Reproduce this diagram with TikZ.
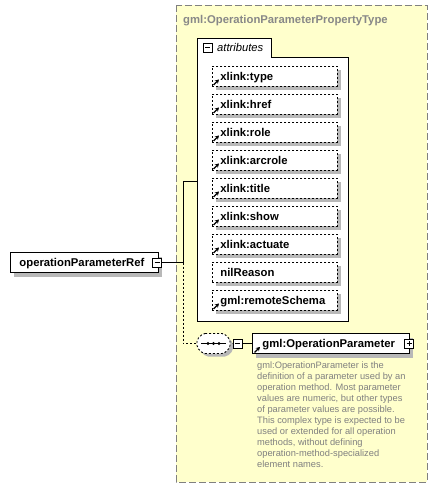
\documentclass[tikz,border=0pt]{standalone}
\usepackage{fontspec}
\setmainfont{Liberation Sans}
\usepackage{tikz}
\usetikzlibrary{shapes}
\usetikzlibrary{shadows}
\usetikzlibrary{arrows.meta}
\pgfdeclarelayer{bglayer}
\pgfdeclarelayer{edgelayer}
\pgfdeclarelayer{nodelayer}
\pgfsetlayers{bglayer,edgelayer,nodelayer,main}
\definecolor{typefill}{RGB}{255,255,204}
\definecolor{typeline}{RGB}{128,128,128}
\definecolor{typetext}{RGB}{136,136,136}
\definecolor{doctext}{RGB}{128,128,128}
\definecolor{shadowgrey}{RGB}{184,184,184}
\tikzstyle{none}=[inner sep=0pt]
\tikzstyle{boldtext}=[font=\fontsize{11.3}{13}\selectfont\bfseries]
\tikzstyle{greyshadow}=[drop shadow={shadow xshift=4pt,shadow yshift=-4pt,fill=shadowgrey,opacity=1}]
\tikzstyle{element}=[draw=black, line width=0.9pt, fill=white, greyshadow, anchor=west, minimum height=20pt, inner ysep=0pt, text height=10pt, text depth=2pt, align=left, boldtext]
\tikzstyle{attribute}=[element, dash pattern=on 2pt off 2pt, text width=109pt, inner xsep=8pt]
\tikzstyle{collapser}=[draw=black, line width=0.8pt, fill=white, minimum size=9pt, inner sep=0pt, path picture={\draw[line width=0.8pt] ([xshift=2pt]path picture bounding box.west) -- ([xshift=-2pt]path picture bounding box.east);}]
\tikzstyle{expander}=[draw=black, line width=0.8pt, fill=white, minimum size=9pt, inner sep=0pt, path picture={\draw[line width=0.8pt] ([xshift=2pt]path picture bounding box.west) -- ([xshift=-2pt]path picture bounding box.east) ([yshift=-2pt]path picture bounding box.north) -- ([yshift=2pt]path picture bounding box.south);}]
\tikzstyle{ref}=[-{Stealth[length=4pt,width=4.5pt]}, line width=1.3pt]
\tikzstyle{connector}=[line width=0.9pt]
\tikzstyle{optional}=[connector, dash pattern=on 2pt off 2pt]

\begin{document}
\begin{tikzpicture}[x=1pt,y=1pt]
	\useasboundingbox (0,0) rectangle (438,-488);
	\begin{pgfonlayer}{bglayer}
		\draw [typeline, fill=typefill, line width=0.9pt, dash pattern=on 7pt off 3pt] (176,-5) rectangle (427,-482);
	\end{pgfonlayer}
	\begin{pgfonlayer}{nodelayer}
		\node [style=none, boldtext, text=typetext, anchor=base west] (0) at (183,-23) {gml:OperationParameterPropertyType};
		\draw [line width=0.9pt, fill=white] (197,-38) -- (271,-38) -- (271,-57) -- (348,-57) -- (348,-321) -- (197,-321) -- cycle;
		\node [style=collapser] (1) at (207.5,-47.5) {};
		\node [style=none, anchor=base west, font=\fontsize{11.2}{13}\selectfont\itshape] (2) at (217,-51.5) {attributes};
		\node [style=attribute] (3) at (212,-76) {xlink:type};
		\node [style=attribute] (4) at (212,-104) {xlink:href};
		\node [style=attribute] (5) at (212,-132) {xlink:role};
		\node [style=attribute] (6) at (212,-160) {xlink:arcrole};
		\node [style=attribute] (7) at (212,-188) {xlink:title};
		\node [style=attribute] (8) at (212,-216) {xlink:show};
		\node [style=attribute] (9) at (212,-244) {xlink:actuate};
		\node [style=attribute] (10) at (212,-272) {nilReason};
		\node [style=attribute] (11) at (212,-300) {gml:remoteSchema};
		\node [style=element, text width=130pt, inner xsep=9pt] (12) at (10,-262.5) {operationParameterRef};
		\node [style=collapser] (13) at (157,-262.5) {};
		\fill [shadowgrey, rounded corners=2pt] (206,-336.5) -- (227,-336.5) -- (233,-342.5) -- (233,-350.5) -- (227,-356.5) -- (206,-356.5) -- (200,-350.5) -- (200,-342.5) -- cycle;
		\draw [fill=white, line width=0.9pt, dash pattern=on 2pt off 2pt, rounded corners=2pt] (203,-333.5) -- (224,-333.5) -- (230,-339.5) -- (230,-347.5) -- (224,-353.5) -- (203,-353.5) -- (197,-347.5) -- (197,-339.5) -- cycle;
		\node [style=none, minimum width=33pt, minimum height=20pt] (14) at (213.5,-343.5) {};
		\draw [line width=1pt] (201,-343.5) -- (226,-343.5);
		\fill (208,-343.5) circle (1.6);
		\fill (213.5,-343.5) circle (1.6);
		\fill (219,-343.5) circle (1.6);
		\node [style=collapser] (15) at (237.5,-343.5) {};
		\node [style=element, text width=137pt, inner xsep=10pt] (16) at (252,-343.5) {gml:OperationParameter};
		\node [style=expander] (17) at (409,-343.5) {};
		\node [style=none, anchor=north west, align=left, text=doctext, font=\fontsize{9.3}{11}\selectfont] (18) at (257,-362) {gml:OperationParameter is the\\definition of a parameter used by an\\operation method. Most parameter\\values are numeric, but other types\\of parameter values are possible.\\This complex type is expected to be\\used or extended for all operation\\methods, without defining\\operation-method-specialized\\element names.};
		\coordinate (19) at (183,-262.5);
		\coordinate (20) at (183,-181);
		\coordinate (21) at (183,-343.5);
		\coordinate (22) at (197,-181);
	\end{pgfonlayer}
	\begin{pgfonlayer}{edgelayer}
		\draw [style=connector] (13) to (19);
		\draw [style=connector] (19) to (20) to (22);
		\draw [style=optional] (19) to (21) to (14);
		\draw [style=connector] (14) to (15);
		\draw [style=connector] (15) to (16);
	\end{pgfonlayer}
	\draw [style=ref] ([shift={(1.5pt,1.5pt)}]3.south west) to ([shift={(7pt,7pt)}]3.south west);
	\draw [style=ref] ([shift={(1.5pt,1.5pt)}]4.south west) to ([shift={(7pt,7pt)}]4.south west);
	\draw [style=ref] ([shift={(1.5pt,1.5pt)}]5.south west) to ([shift={(7pt,7pt)}]5.south west);
	\draw [style=ref] ([shift={(1.5pt,1.5pt)}]6.south west) to ([shift={(7pt,7pt)}]6.south west);
	\draw [style=ref] ([shift={(1.5pt,1.5pt)}]7.south west) to ([shift={(7pt,7pt)}]7.south west);
	\draw [style=ref] ([shift={(1.5pt,1.5pt)}]8.south west) to ([shift={(7pt,7pt)}]8.south west);
	\draw [style=ref] ([shift={(1.5pt,1.5pt)}]9.south west) to ([shift={(7pt,7pt)}]9.south west);
	\draw [style=ref] ([shift={(1.5pt,1.5pt)}]11.south west) to ([shift={(7pt,7pt)}]11.south west);
	\draw [style=ref] ([shift={(2.5pt,1.5pt)}]16.south west) to ([shift={(8pt,7pt)}]16.south west);
\end{tikzpicture}
\end{document}
